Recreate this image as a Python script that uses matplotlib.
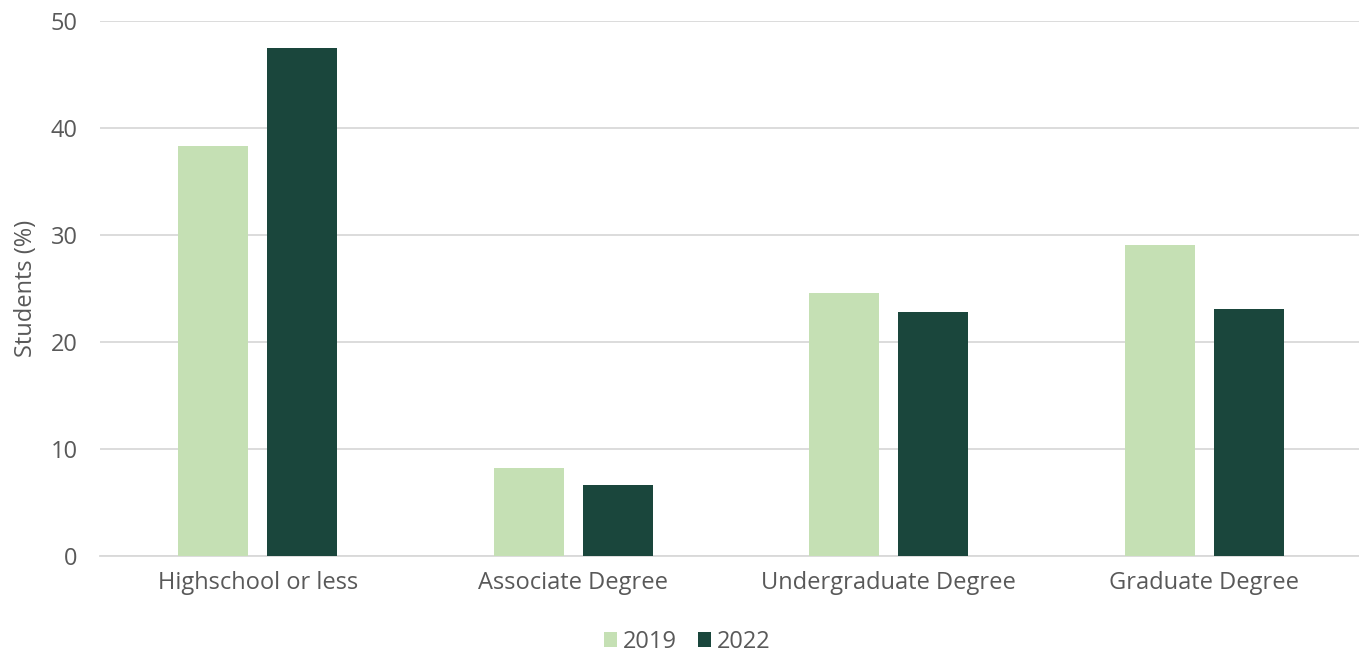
import matplotlib
matplotlib.use("Agg")
import matplotlib.pyplot as plt
import numpy as np

categories = ["Highschool or less", "Associate Degree", "Undergraduate Degree", "Graduate Degree"]
series_names = ["2019", "2022"]
values_2019 = [38.3, 8.2, 24.6, 29.1]
values_2022 = [47.5, 6.6, 22.8, 23.1]
yticks = [0, 10, 20, 30, 40, 50]

colors = ["#C5E0B4", "#1A463C"]
text_color = "#595959"

plt.rcParams['font.family'] = ['Open Sans', 'DejaVu Sans']
fs = 17

fig = plt.figure(figsize=(13.59, 6.54), dpi=100)
ax = fig.add_axes([100/1359, (654-556)/654, 1262/1359, (556-21)/654])

x = np.arange(len(categories))
w = 0.222
off = 0.141
ax.bar(x - off, values_2019, width=w, color=colors[0], label=series_names[0], zorder=3)
ax.bar(x + off, values_2022, width=w, color=colors[1], label=series_names[1], zorder=3)

ax.set_xlim(-0.5, len(categories) - 0.5)
ax.set_ylim(0, 50)
ax.set_yticks(yticks)
ax.set_yticklabels([str(t) for t in yticks], fontsize=fs, color=text_color)
ax.set_xticks(x)
ax.set_xticklabels(categories, fontsize=fs, color=text_color)
ax.tick_params(axis='both', length=0)
ax.tick_params(axis='y', pad=16)
ax.tick_params(axis='x', pad=11)
ax.grid(axis='y', color="#D9D9D9", linewidth=1.3, zorder=0)
for s in ["top", "right", "left"]:
    ax.spines[s].set_visible(False)
ax.spines["bottom"].set_color("#D9D9D9")
ax.spines["bottom"].set_linewidth(1.3)
ax.set_ylabel("Students (%)", fontsize=fs, color=text_color, labelpad=9)

leg = fig.legend(loc="center", bbox_to_anchor=(0.506, 1 - 642/654), ncol=2, frameon=False,
                 fontsize=fs, handlelength=0.55, handleheight=0.6, handletextpad=0.25,
                 columnspacing=0.9, labelcolor=text_color)

fig.savefig("out.png", dpi=100)
